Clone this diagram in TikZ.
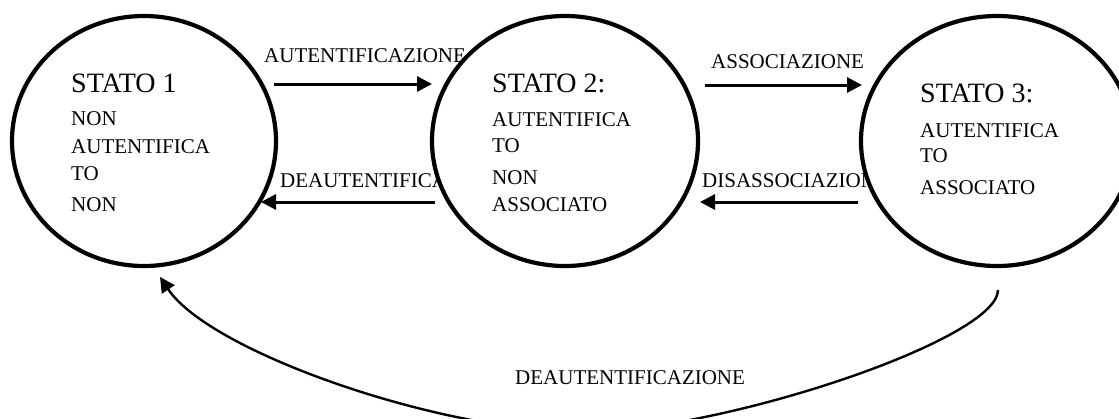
\documentclass[tikz,border=0pt]{standalone}
\usepackage{fontspec}
\setmainfont{Liberation Serif}
\usetikzlibrary{shapes.geometric, arrows.meta}
\begin{document}
\begin{tikzpicture}[x=1pt, y=-1pt,
  state/.style={ellipse, draw, fill=white, line width=4.2pt, inner sep=0pt},
  title/.style={anchor=base west, inner sep=0pt, font=\fontsize{28}{28}\selectfont},
  body/.style={anchor=base west, inner sep=0pt, font=\fontsize{21}{21}\selectfont},
  lbl/.style={anchor=base west, inner sep=0pt, font=\fontsize{21}{21}\selectfont},
  trans/.style={line width=3pt, -{Triangle[length=15pt,width=15pt]}},
  back/.style={line width=2.4pt, -{Triangle[length=15pt,width=15pt]}}
]
\path[use as bounding box, clip] (0,0) rectangle (1119,418);

% transition labels (their ends run under the states)
\node[lbl] (l1) at (264,62)  {AUTENTIFICAZIONE};
\node[lbl] (l2) at (280,187) {DEAUTENTIFICA};
\node[lbl] (l3) at (711,68)  {ASSOCIAZIONE};
\node[lbl] (l4) at (702,187) {DISASSOCIAZION};
\node[lbl] (l5) at (515,384) {DEAUTENTIFICAZIONE};

% states
\node[state, minimum width=264pt, minimum height=250pt] (s1) at (144,141) {};
\node[state, minimum width=266pt, minimum height=250pt] (s2) at (565,141) {};
\node[state, minimum width=272pt, minimum height=250pt] (s3) at (997,141) {};

% state 1 text
\node[title] (t1)  at (71,92)  {STATO 1};
\node[body]  (t1a) at (71,125) {NON};
\node[body]  (t1b) at (71,153) {AUTENTIFICA};
\node[body]  (t1c) at (71,180) {TO};
\node[body]  (t1d) at (71,211) {NON};

% state 2 text
\node[title] (t2)  at (492,92)  {STATO 2:};
\node[body]  (t2a) at (492,126) {AUTENTIFICA};
\node[body]  (t2b) at (492,152) {TO};
\node[body]  (t2c) at (492,184) {NON};
\node[body]  (t2d) at (492,211) {ASSOCIATO};

% state 3 text
\node[title] (t3)  at (920,102) {STATO 3:};
\node[body]  (t3a) at (920,137) {AUTENTIFICA};
\node[body]  (t3b) at (920,162) {TO};
\node[body]  (t3c) at (920,194) {ASSOCIATO};

% arrow end points
\coordinate (a1s) at (274,84);  \coordinate (a1e) at (432,84);
\coordinate (a2s) at (435,202); \coordinate (a2e) at (261,202);
\coordinate (a3s) at (705,85);  \coordinate (a3e) at (862,85);
\coordinate (a4s) at (858,202); \coordinate (a4e) at (700,202);
\coordinate (bs)  at (998,290); \coordinate (bm)  at (583,432);
\coordinate (be)  at (160,277);

\draw[trans] (a1s) -- (a1e);
\draw[trans] (a2s) -- (a2e);
\draw[trans] (a3s) -- (a3e);
\draw[trans] (a4s) -- (a4e);
\draw[back] (bs) .. controls (998,340) and (720,432) .. (bm)
                 .. controls (440,432) and (210,352) .. (be);
\end{tikzpicture}
\end{document}
